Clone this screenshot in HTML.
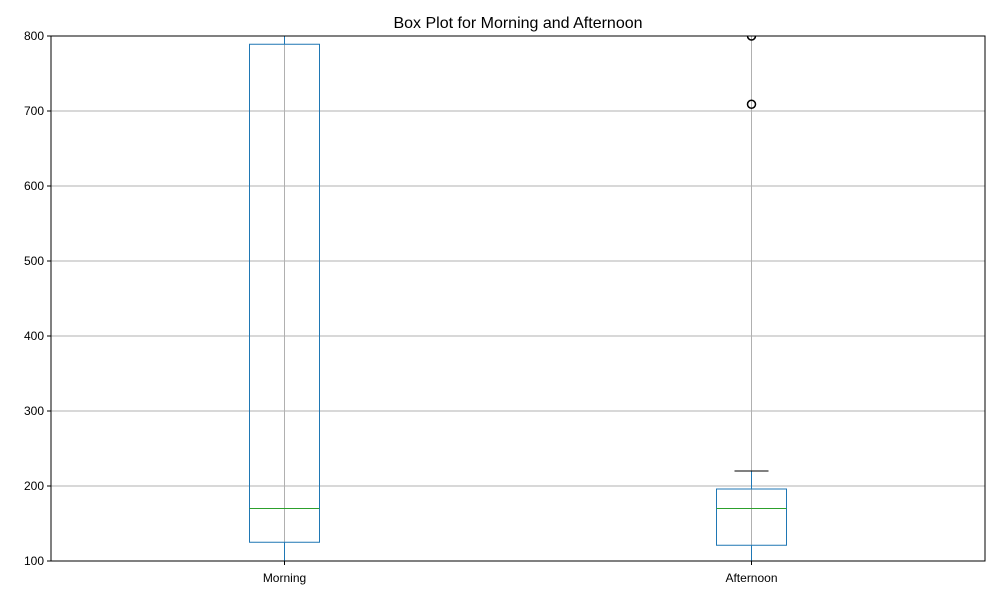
<!DOCTYPE html>
<html><head><meta charset="utf-8"><style>body{margin:0;background:#fff}svg{display:block;font-family:"Liberation Sans","DejaVu Sans",sans-serif}</style></head>
<body>
<svg id="chart" width="1000" height="600">
<rect width="1000" height="600" fill="#fff"/>
<defs><clipPath id="pc"><rect x="51" y="36" width="934" height="525"/></clipPath></defs>
<text x="518" y="28" font-size="16" text-anchor="middle">Box Plot for Morning and Afternoon</text>
<g id="grid"></g>
<g id="boxes" clip-path="url(#pc)"></g>
<rect x="51" y="36" width="934" height="525" fill="none" stroke="#000" stroke-width="1"/>
<g id="axes"></g>
</svg>
<script>
const categories = ["Morning","Afternoon"];
const q1 = [125,121];
const medians = [170,170];
const q3 = [789,196];
const whiskLo = [100,100];
const whiskHi = [900,220];
const outliers = [[],[709,800]];
const yTicks = [100,200,300,400,500,600,700,800];

const NS="http://www.w3.org/2000/svg";
const X0=51,X1=985,Y0=36,Y1=561,ymin=100,ymax=800;
const y=v=>Y1-(v-ymin)/(ymax-ymin)*(Y1-Y0);
const x=i=>X0+(i+0.5)/categories.length*(X1-X0);
function mk(tag,attrs,parent){const e=document.createElementNS(NS,tag);for(const k in attrs)e.setAttribute(k,attrs[k]);parent.appendChild(e);return e;}
const grid=document.getElementById('grid'),boxes=document.getElementById('boxes'),axes=document.getElementById('axes');
yTicks.forEach(t=>{
  let g=mk('line',{x1:X0,x2:X1,y1:y(t),y2:y(t),stroke:'#b0b0b0','stroke-width':1},grid);
  
  
  let tk=mk('line',{x1:X0-4,x2:X0,y1:y(t),y2:y(t),stroke:'#000'},axes);
  
  
  let tx=mk('text',{x:X0-7,y:y(t)+4,'font-size':12,'text-anchor':'end'},axes);
  tx.textContent=t;
  
  
});
categories.forEach((c,i)=>{
  const cx=x(i);
  let g=mk('line',{x1:cx,x2:cx,y1:Y0,y2:Y1,stroke:'#b0b0b0'},grid);
  
  
  const blue='#1f77b4';
  let w1=mk('line',{x1:cx,x2:cx,y1:y(q1[i]),y2:y(whiskLo[i]),stroke:blue},boxes);
  
  
  let w2=mk('line',{x1:cx,x2:cx,y1:y(q3[i]),y2:y(whiskHi[i]),stroke:blue},boxes);
  
  
  let c1=mk('line',{x1:cx-17,x2:cx+17,y1:y(whiskLo[i]),y2:y(whiskLo[i]),stroke:'#000'},boxes);
  
  
  let c2=mk('line',{x1:cx-17,x2:cx+17,y1:y(whiskHi[i]),y2:y(whiskHi[i]),stroke:'#000'},boxes);
  
  
  let b=mk('rect',{x:cx-35,y:y(q3[i]),width:70,height:y(q1[i])-y(q3[i]),fill:'none',stroke:blue},boxes);
  
  
  let m=mk('line',{x1:cx-35,x2:cx+35,y1:y(medians[i]),y2:y(medians[i]),stroke:'#2ca02c'},boxes);
  
  
  outliers[i].forEach(o=>{
    let p=mk('circle',{cx:cx,cy:y(o),r:4,fill:'none',stroke:'#000','stroke-width':1.5},boxes);
    
    
  });
  let tk=mk('line',{x1:cx,x2:cx,y1:Y1,y2:Y1+4,stroke:'#000'},axes);
  
  
  let tx=mk('text',{x:cx,y:Y1+21,'font-size':12,'text-anchor':'middle'},axes);
  tx.textContent=c;
  
  
});
</script>
</body></html>
